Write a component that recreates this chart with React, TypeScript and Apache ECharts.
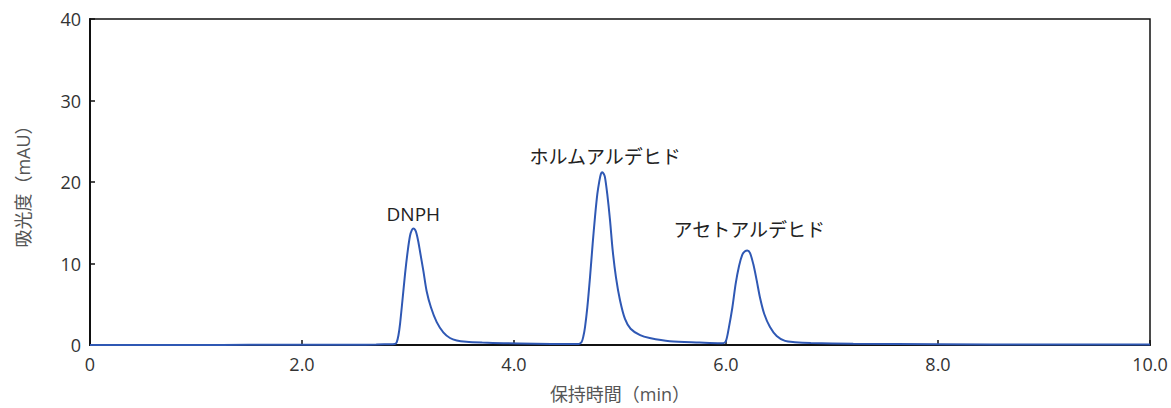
import React, { useEffect, useRef } from "react";
import * as echarts from "echarts";

// Retention time (min) and absorbance (mAU)
const times = [
  0, 0.5, 1.0, 1.5, 2.0, 2.5, 2.7, 2.85, 2.875, 2.893, 2.91, 2.925, 2.947, 2.972, 2.997, 3.019, 3.036, 3.052,
  3.068, 3.082, 3.097, 3.113, 3.145, 3.176, 3.217, 3.271, 3.333, 3.396, 3.46, 3.55, 3.7, 3.9, 4.2, 4.5, 4.61,
  4.638, 4.655, 4.67, 4.692, 4.717, 4.742, 4.764, 4.786, 4.805, 4.82, 4.833, 4.846, 4.858, 4.88, 4.906, 4.931,
  4.962, 5.0, 5.047, 5.1, 5.19, 5.28, 5.47, 5.75, 5.95, 5.975, 6.0, 6.028, 6.06, 6.091, 6.123, 6.154, 6.179,
  6.201, 6.226, 6.258, 6.29, 6.321, 6.361, 6.415, 6.478, 6.557, 6.65, 6.8, 7.2, 8.0, 9.0, 10.0,
];
const absorbance = [
  0, 0, 0, 0.02, 0.02, 0.03, 0.06, 0.1, 0.12, 0.33, 1.2, 2.6, 5.4, 8.7, 11.5, 13.4, 14.1, 14.3,
  14.1, 13.6, 12.7, 11.5, 9.1, 6.6, 4.6, 2.8, 1.55, 0.86, 0.55, 0.4, 0.3, 0.22, 0.16, 0.12, 0.13,
  0.37, 1.1, 2.2, 4.65, 8.3, 12.4, 15.7, 18.5, 20.1, 21.0, 21.2, 21.0, 20.6, 18.5, 15.3, 11.6,
  8.3, 5.5, 3.2, 2.0, 1.2, 0.85, 0.45, 0.3, 0.22, 0.22, 0.5, 2.2, 4.6, 7.5, 9.7, 11.1, 11.5,
  11.6, 11.3, 9.9, 7.9, 5.8, 3.8, 2.2, 1.1, 0.5, 0.35, 0.25, 0.15, 0.1, 0.05, 0.05,
];

// Peak annotations
const peakNames = ["DNPH", "ホルムアルデヒド", "アセトアルデヒド"];
const peakLabelX = [3.05, 4.86, 6.22];
const peakLabelY = [16.1, 23.1, 14.1];

const xTicks = [0, 2, 4, 6, 8, 10];
const yTicks = [0, 10, 20, 30, 40];

const FONT = "'Open Sans', 'Noto Sans CJK JP', sans-serif";

export default function App() {
  const ref = useRef<HTMLDivElement>(null);
  useEffect(() => {
    document.body.style.margin = "0";
    if (!ref.current) return;
    const chart = echarts.init(ref.current, undefined, { renderer: "svg" });
    const data = times.map((t, i) => [t, absorbance[i]]);
    chart.setOption({
      animation: false,
      backgroundColor: "#ffffff",
      textStyle: { fontFamily: FONT },
      grid: {
        left: 90,
        right: 21,
        top: 19,
        bottom: 62,
        show: true,
        borderColor: "#111111",
        borderWidth: 1.5,
      },
      xAxis: {
        type: "value",
        min: xTicks[0],
        max: xTicks[xTicks.length - 1],
        interval: 2,
        name: "保持時間（min）",
        nameLocation: "middle",
        nameGap: 40,
        nameTextStyle: { fontSize: 18, color: "#555", fontFamily: FONT },
        axisLine: { show: true, lineStyle: { color: "#111", width: 2 } },
        axisTick: { show: true, inside: true, length: 5, lineStyle: { color: "#111", width: 1.5 } },
        axisLabel: {
          fontSize: 18,
          color: "#333",
          margin: 10,
          fontFamily: FONT,
          formatter: (v: number) => (v === 0 ? "0" : v.toFixed(1)),
        },
        splitLine: { show: false },
      },
      yAxis: {
        type: "value",
        min: yTicks[0],
        max: yTicks[yTicks.length - 1],
        interval: 10,
        name: "吸光度（mAU）",
        nameLocation: "middle",
        nameGap: 58,
        nameRotate: 90,
        nameTextStyle: { fontSize: 18, color: "#555", fontFamily: FONT },
        axisLine: { show: true, lineStyle: { color: "#111", width: 2 } },
        axisTick: { show: true, inside: true, length: 5, lineStyle: { color: "#111", width: 1.5 } },
        axisLabel: { fontSize: 18, color: "#333", margin: 9, fontFamily: FONT },
        splitLine: { show: false },
      },
      series: [
        {
          type: "line",
          data,
          showSymbol: false,
          smooth: 0.3,
          lineStyle: { color: "#2f58b4", width: 2 },
          z: 3,
          markPoint: {
            symbol: "circle",
            symbolSize: 0,
            silent: true,
            label: {
              show: true,
              position: "inside",
              color: "#222",
              fontSize: 19,
              fontFamily: FONT,
              formatter: (p: any) => p.name,
            },
            data: peakNames.map((n, i) => ({ name: n, coord: [peakLabelX[i], peakLabelY[i]] })),
          },
        },
      ],
    });
    return () => chart.dispose();
  }, []);
  return <div ref={ref} style={{ width: 1171, height: 408 }} />;
}
